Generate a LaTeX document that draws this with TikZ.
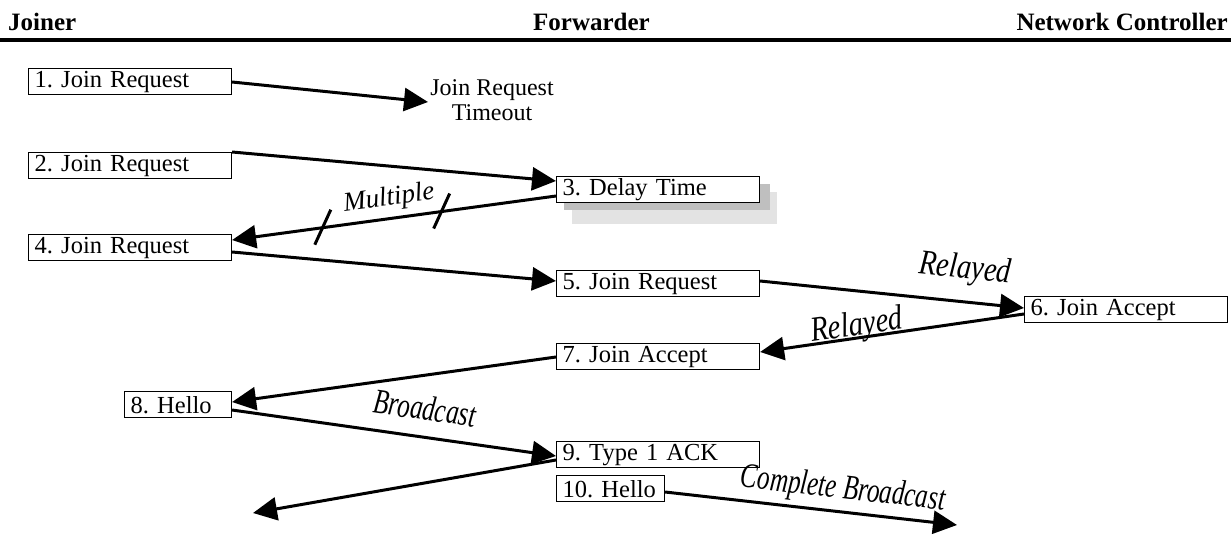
\documentclass[tikz,border=0pt]{standalone}
\usepackage{fontspec}
\setmainfont{Liberation Serif}
\newfontfamily\labelfont{Liberation Serif}[FakeStretch=0.72]
\newfontfamily\relayfont{Liberation Serif}[FakeStretch=0.82]
\usetikzlibrary{arrows.meta,calc}
\begin{document}
\frenchspacing
\begin{tikzpicture}[x=1pt,y=-1pt,
  box/.style={draw, line width=1.4pt, fill=white, minimum height=26pt, inner xsep=6pt, inner ysep=0pt,
    align=left, anchor=north west, font=\fontsize{24.5}{26}\selectfont, text width=#1},
  box/.default=190.7pt,
  hdr/.style={font=\fontsize{25}{28}\selectfont\bfseries, inner sep=0pt},
  msg/.style={line width=3pt, -{Triangle[length=24pt,width=23pt]}},
  lbl/.style={font=\labelfont\itshape\fontsize{35}{38}\selectfont, inner sep=0pt},
  rlbl/.style={font=\relayfont\itshape\fontsize{35}{38}\selectfont, inner sep=0pt},
  tick/.style={line width=3pt},
]
\useasboundingbox (0,0) rectangle (1231,538);

% headers
\node[hdr, anchor=base west] (hj) at (8,30) {Joiner};
\node[hdr, anchor=base west] (hf) at (533,30) {Forwarder};
\node[hdr, anchor=base east] (hn) at (1228,30) {Network Controller};
\draw[line width=4pt] (0,40) -- (1231,40);

% shadow of box 3
\fill[gray!22] (572,192) rectangle (777,224);
\fill[gray!100!white!50] (564,184) rectangle (770,210);

% boxes
\node[box] (b1) at (28,68) {1. Join Request};
\node[box] (b2) at (28,152) {2. Join Request};
\node[box] (b3) at (556,176) {3. Delay Time};
\node[box] (b4) at (28,234) {4. Join Request};
\node[box] (b5) at (556,270) {5. Join Request};
\node[box] (b6) at (1024,296) {6. Join Accept};
\node[box] (b7) at (556,343) {7. Join Accept};
\node[box=94.7pt] (b8) at (124,391) {8. Hello};
\node[box] (b9) at (556,441) {9. Type 1 ACK};
\node[box=95.7pt] (b10) at (556,475) {10. Hello};

\node[font=\fontsize{24}{25}\selectfont, align=center, inner sep=0pt] (tmo) at (492,100) {Join Request\\Timeout};

% free ends
\coordinate (t1) at (428,102);
\coordinate (t9) at (253,513);
\coordinate (t10) at (957,525);

% messages
\draw[msg] ([yshift=-14pt]b1.north east) -- (t1);
\draw[msg] (b2.north east) -- ([yshift=-5pt]b3.north west);
\draw[msg] ([yshift=-20pt]b3.north west) -- coordinate[pos=0.353] (s2) coordinate[pos=0.72] (s1) ([yshift=-6pt]b4.north east);
\draw[msg] ([yshift=-18pt]b4.north east) -- ([yshift=-11pt]b5.north west);
\draw[msg] ([yshift=-11pt]b5.north east) -- ([yshift=-12pt]b6.north west);
\draw[msg] ([yshift=-18pt]b6.north west) -- ([yshift=-9pt]b7.north east);
\draw[msg] ([yshift=-14pt]b7.north west) -- ([yshift=-11pt]b8.north east);
\draw[msg] ([yshift=-19pt]b8.north east) -- ([yshift=-15pt]b9.north west);
\draw[msg] ([yshift=-19pt]b9.north west) -- (t9);
\draw[msg] ([yshift=-17pt]b10.north east) -- (t10);

% ticks on the multiple arrow
\draw[tick] (s1) ++(-8,17) -- ++(16,-35);
\draw[tick] (s2) ++(-8,17) -- ++(16,-35);

% labels
\node[font=\itshape\fontsize{27}{30}\selectfont, inner sep=0pt, rotate=7.8] (lm) at (389,199) {Multiple};
\node[rlbl, rotate=-5.9] (lr1) at (965,270) {Relayed};
\node[rlbl, rotate=8] (lr2) at (857,327) {Relayed};
\node[lbl, rotate=-8] (lb) at (425,408) {Broadcast};
\node[lbl, rotate=-6.5] (lc) at (843,490) {Complete Broadcast};
\end{tikzpicture}
\end{document}
